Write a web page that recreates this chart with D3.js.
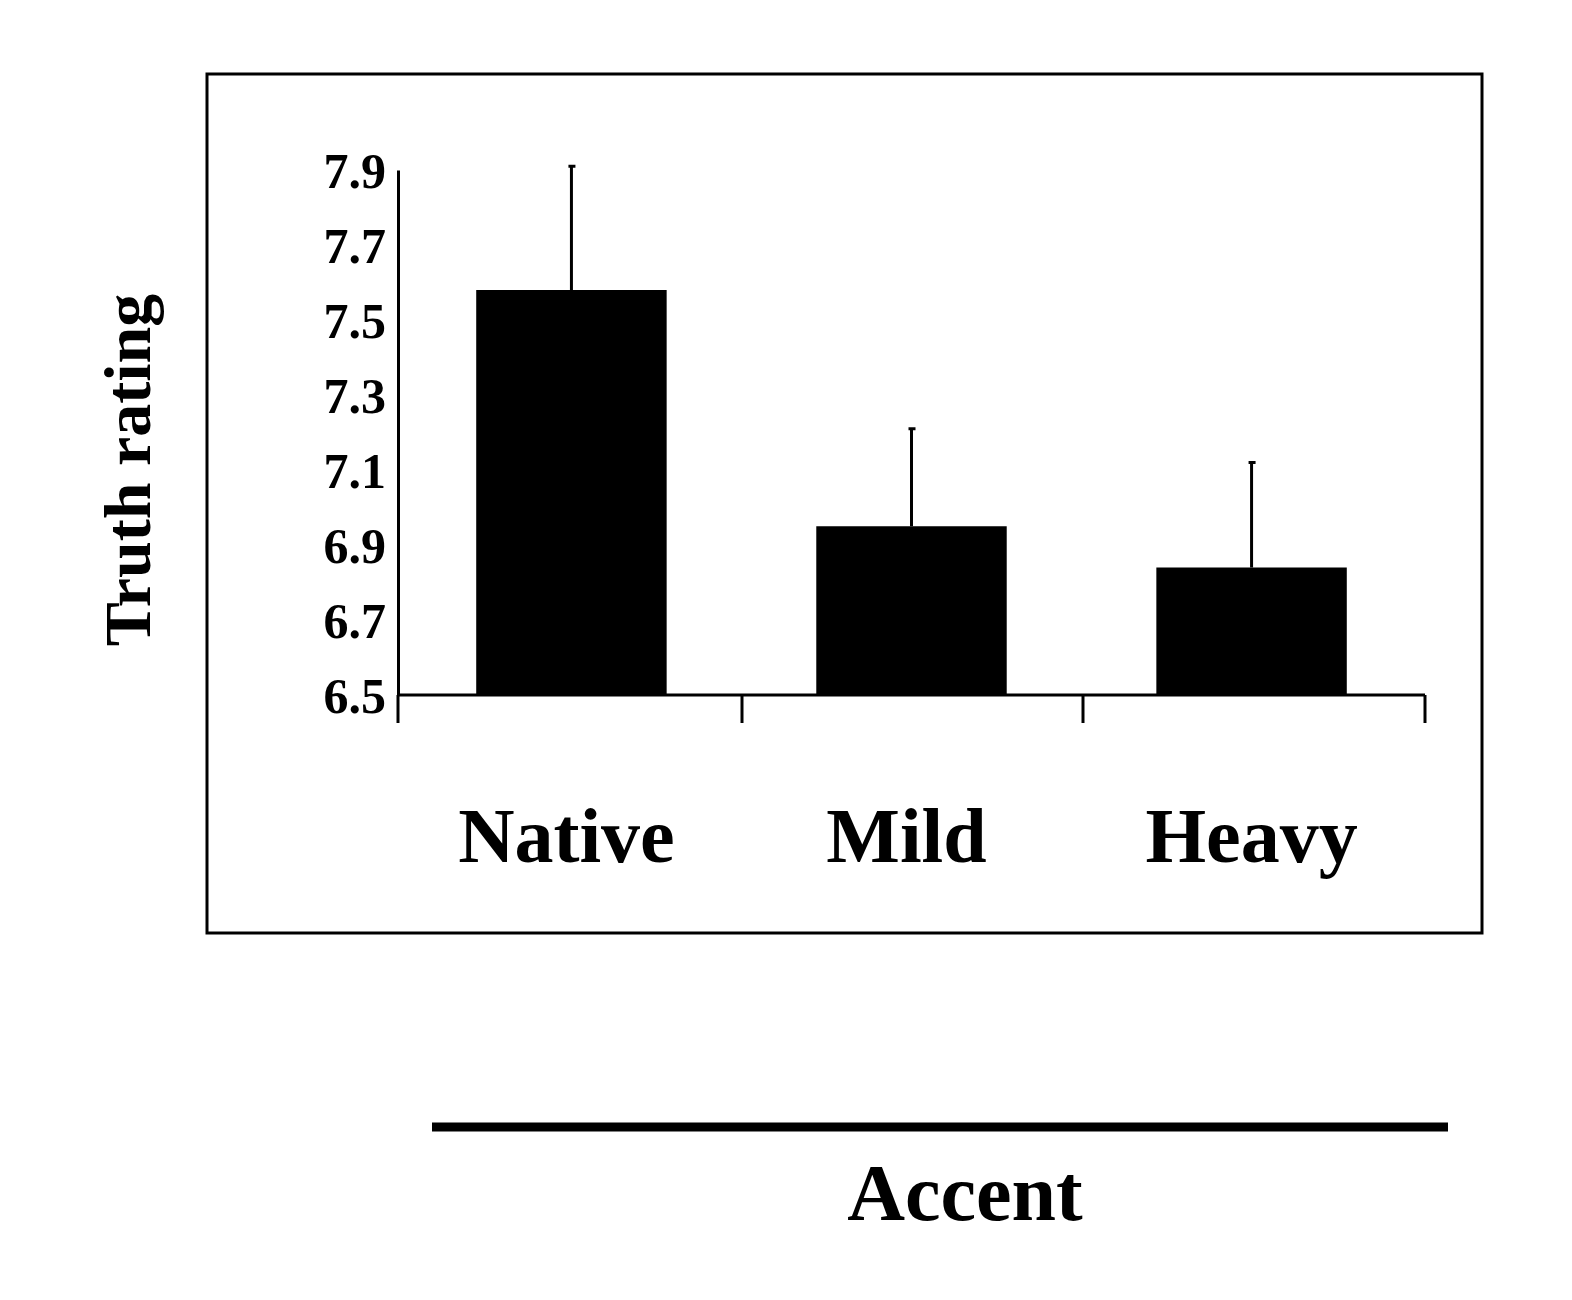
<!DOCTYPE html><html><head><script src="https://cdn.jsdelivr.net/npm/d3@7"></script>
<style>body{margin:0;background:#fff}</style></head><body><svg id="c" width="1572" height="1300"></svg>
<script>
const categories=["Native","Mild","Heavy"];
const means=[7.58,6.95,6.84];
const errors=[0.33,0.26,0.28];
const yTicks=[6.5,6.7,6.9,7.1,7.3,7.5,7.7,7.9];
const svg=d3.select("#c");
const F="Liberation Serif, Times New Roman, serif";
svg.append("rect").attr("x",207).attr("y",74).attr("width",1275).attr("height",859).attr("fill","none").attr("stroke","#000").attr("stroke-width",3);
const y=d3.scaleLinear().domain([6.5,7.9]).range([695,170]);
const x=d3.scaleBand().domain(categories).range([398,1425]).paddingInner(0.44).paddingOuter(0.23);
const g=svg.append("g");
g.selectAll(".bar").data(categories).join("rect").attr("x",d=>x(d)).attr("width",x.bandwidth())
 .attr("y",(d,i)=>y(means[i])).attr("height",(d,i)=>695-y(means[i])).attr("fill","#000");
categories.forEach((d,i)=>{const cx=x(d)+x.bandwidth()/2;
 g.append("line").attr("x1",cx).attr("x2",cx).attr("y1",y(means[i])).attr("y2",y(means[i]+errors[i])).attr("stroke","#000").attr("stroke-width",3);
 g.append("line").attr("x1",cx-3).attr("x2",cx+4).attr("y1",y(means[i]+errors[i])).attr("y2",y(means[i]+errors[i])).attr("stroke","#000").attr("stroke-width",3);
});
const ya=svg.append("g").attr("transform","translate(398,0)").call(d3.axisLeft(y).tickValues(yTicks).tickSize(0).tickPadding(12).tickFormat(d3.format(".1f")));
ya.select(".domain").attr("stroke-width",3);
ya.selectAll("text").attr("font-family",F).attr("font-weight","bold").attr("font-size",50).attr("dy","0.35em");
const xa=svg.append("g").attr("transform","translate(0,695)");
xa.append("line").attr("x1",398).attr("x2",1425).attr("stroke","#000").attr("stroke-width",3);
[398,742,1083,1425].forEach(t=>xa.append("line").attr("x1",t).attr("x2",t).attr("y1",0).attr("y2",28).attr("stroke","#000").attr("stroke-width",3));
svg.selectAll(".xl").data(categories).join("text").attr("x",d=>x(d)+x.bandwidth()/2+(d==="Heavy"?0:-5)).attr("y",862)
 .attr("text-anchor","middle").attr("font-family",F).attr("font-weight","bold").attr("font-size",78).text(d=>d);
svg.append("text").attr("transform","translate(150,470) rotate(-90)").attr("text-anchor","middle").attr("font-family",F).attr("font-weight","bold").attr("font-size",66).text("Truth rating");
svg.append("line").attr("x1",432).attr("x2",1448).attr("y1",1127).attr("y2",1127).attr("stroke","#000").attr("stroke-width",9);
svg.append("text").attr("x",965).attr("y",1220).attr("text-anchor","middle").attr("font-family",F).attr("font-weight","bold").attr("font-size",80).text("Accent");
</script></body></html>
